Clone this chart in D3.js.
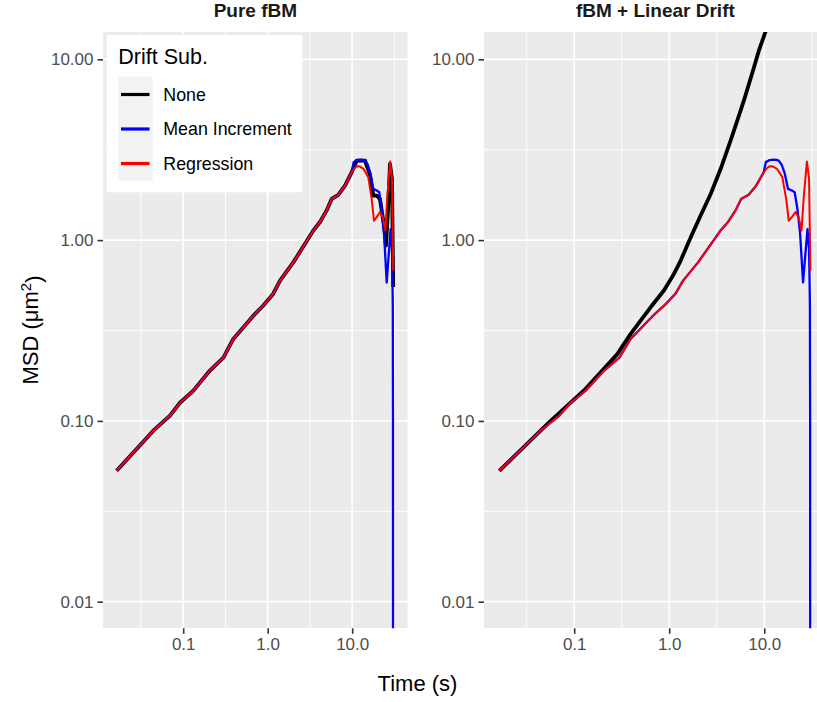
<!DOCTYPE html>
<html>
<head>
<meta charset="utf-8">
<script src="https://cdn.jsdelivr.net/npm/d3@7"></script>
<style>
  body { margin: 0; background: #fff; }
  svg { display: block; font-family: "Liberation Sans", Arial, Helvetica, sans-serif; }
</style>
</head>
<body>
<svg id="chart" width="817" height="702"></svg>
<script>
// ---------- DATA ----------
const panelTitles = ["Pure fBM", "fBM + Linear Drift"];
const seriesNames = ["None", "Mean Increment", "Regression"];
const seriesColors = ["#000000", "#0000FF", "#FF0000"];

const xTickValues = [0.1, 1, 10];
const xTickLabels = ["0.1", "1.0", "10.0"];
const yTickValues = [0.01, 0.1, 1, 10];
const yTickLabels = ["0.01", "0.10", "1.00", "10.00"];

// shared early part of the MSD curve (time in s, MSD in um^2)
const baseTime = [0.0163, 0.0443, 0.0698, 0.0916, 0.132, 0.207, 0.299, 0.392, 0.514, 0.676, 0.887, 1.16, 1.40, 2.01, 3.47, 4.16, 4.99, 5.71, 6.85, 8.22, 9.86];
const baseMsd  = [0.0530, 0.0883, 0.107, 0.126, 0.147, 0.190, 0.224, 0.284, 0.329, 0.382, 0.435, 0.504, 0.597, 0.753, 1.13, 1.26, 1.46, 1.69, 1.78, 2.00, 2.37];

// tails (after ~10 s)
const noneTailTime = [11.3, 14.2, 16.3, 17.8, 19.5, 21.3, 23.8, 25.1, 26.5, 28.0, 29.6, 30.6];
const noneTailMsd  = [2.75, 2.75, 2.28, 1.76, 1.76, 1.69, 1.20, 0.933, 1.43, 2.64, 2.18, 0.55];

const meanTailTime = [10.4, 11.4, 12.5, 13.4, 14.2, 15.2, 16.3, 17.8, 19.5, 20.9, 22.3, 23.8, 25.6, 27.0, 28.5, 29.6, 30.1, 30.25, 30.3, 30.4, 30.5];
const meanTailMsd  = [2.70, 2.77, 2.79, 2.78, 2.75, 2.62, 2.37, 1.92, 1.88, 1.84, 1.49, 1.10, 0.583, 0.820, 1.15, 0.893, 0.514, 0.418, 0.224, 0.107, 0.000001];

const regTailTime = [10.6, 11.3, 12.4, 13.6, 15.5, 17.0, 18.1, 19.5, 21.3, 23.0, 24.7, 26.1, 28.1, 29.6, 30.6];
const regTailMsd  = [2.49, 2.56, 2.55, 2.48, 2.23, 1.69, 1.28, 1.34, 1.43, 1.34, 1.13, 1.76, 2.72, 2.18, 0.678];

// "None" curve with linear drift (right panel)
const driftNoneTime = [0.0163, 0.0565, 0.126, 0.190, 0.284, 0.393, 0.500, 0.637, 0.879, 1.12, 1.32, 1.68, 2.14, 2.73, 3.48, 4.43, 5.20, 6.11, 6.90, 7.80, 8.79, 10.4, 15.8, 30.2];
const driftNoneMsd  = [0.053, 0.100, 0.147, 0.186, 0.234, 0.303, 0.359, 0.425, 0.526, 0.650, 0.771, 1.035, 1.368, 1.80, 2.48, 3.56, 4.58, 5.92, 7.31, 9.04, 11.2, 14.4, 30, 95];

// ---------- BUILD SERIES ----------
const zip = (t, m) => t.map((d, i) => ({ t: d, m: m[i] }));
const baseSeries = zip(baseTime, baseMsd);
const noneFbm = baseSeries.concat(zip(noneTailTime, noneTailMsd));
const meanSeries = baseSeries.concat(zip(meanTailTime, meanTailMsd));
const regSeries = baseSeries.concat(zip(regTailTime, regTailMsd));
const noneDrift = zip(driftNoneTime, driftNoneMsd);

const panels = [
  { title: panelTitles[0], x0: 103, x1: 407.7, series: [noneFbm, meanSeries, regSeries] },
  { title: panelTitles[1], x0: 484, x1: 826.7, series: [noneDrift, meanSeries, regSeries] }
];
const lineWidths = [3.8, 2.3, 2];

const xDomain = [Math.pow(10, -1.949), Math.pow(10, 1.657)];
const yTop = 32, yBottom = 628.3;
const y = d3.scaleLog().domain([Math.pow(10, -2.147), Math.pow(10, 1.151)]).range([yBottom, yTop]);

const svg = d3.select("#chart");
svg.append("rect").attr("width", 817).attr("height", 702).attr("fill", "#fff");

const minorX = [-1.5, -0.5, 0.5, 1.5].map(e => Math.pow(10, e));
const minorY = [-1.5, -0.5, 0.5].map(e => Math.pow(10, e));

panels.forEach((p, pi) => {
  const x = d3.scaleLog().domain(xDomain).range([p.x0, p.x1]);
  const g = svg.append("g");
  const clipId = "clip" + pi;
  svg.append("clipPath").attr("id", clipId)
    .append("rect").attr("x", p.x0).attr("y", yTop).attr("width", p.x1 - p.x0).attr("height", yBottom - yTop);

  const pg = g.append("g").attr("clip-path", `url(#${clipId})`);
  pg.append("rect").attr("x", p.x0).attr("y", yTop).attr("width", p.x1 - p.x0).attr("height", yBottom - yTop).attr("fill", "#EBEBEB");

  // minor grid
  pg.selectAll(".mgx").data(minorX).join("line")
    .attr("x1", d => x(d)).attr("x2", d => x(d)).attr("y1", yTop).attr("y2", yBottom)
    .attr("stroke", "#fff").attr("stroke-width", 0.9);
  pg.selectAll(".mgy").data(minorY).join("line")
    .attr("y1", d => y(d)).attr("y2", d => y(d)).attr("x1", p.x0).attr("x2", p.x1)
    .attr("stroke", "#fff").attr("stroke-width", 0.9);
  // major grid
  pg.selectAll(".Mgx").data(xTickValues).join("line")
    .attr("x1", d => x(d)).attr("x2", d => x(d)).attr("y1", yTop).attr("y2", yBottom)
    .attr("stroke", "#fff").attr("stroke-width", 1.7);
  pg.selectAll(".Mgy").data(yTickValues).join("line")
    .attr("y1", d => y(d)).attr("y2", d => y(d)).attr("x1", p.x0).attr("x2", p.x1)
    .attr("stroke", "#fff").attr("stroke-width", 1.7);

  // lines
  const line = d3.line().x(d => x(d.t)).y(d => y(d.m));
  p.series.forEach((s, si) => {
    pg.append("path").datum(s).attr("d", line)
      .attr("fill", "none").attr("stroke", seriesColors[si])
      .attr("stroke-width", lineWidths[si]).attr("stroke-linejoin", "round");
  });

  // axes
  const xa = g.append("g").attr("transform", `translate(0,${yBottom})`)
    .call(d3.axisBottom(x).tickValues(xTickValues).tickFormat((d, i) => xTickLabels[i]).tickSizeOuter(0).tickSize(5.5).tickPadding(4));
  const ya = g.append("g").attr("transform", `translate(${p.x0},0)`)
    .call(d3.axisLeft(y).tickValues(yTickValues).tickFormat((d, i) => yTickLabels[i]).tickSizeOuter(0).tickSize(5.5).tickPadding(4));
  [xa, ya].forEach(a => {
    a.select(".domain").remove();
    a.selectAll(".tick line").attr("stroke", "#333333").attr("stroke-width", 1.6);
    a.selectAll(".tick text").attr("fill", "#4D4D4D").attr("font-size", "17px")
      .attr("font-family", "'Liberation Sans', Arial, sans-serif");
  });

  // facet title
  svg.append("text").attr("x", (p.x0 + p.x1) / 2).attr("y", 17)
    .attr("text-anchor", "middle").attr("font-weight", "bold").attr("font-size", "19px")
    .attr("fill", "#1A1A1A").text(p.title);
});

// axis titles
svg.append("text").attr("x", 417.5).attr("y", 691).attr("text-anchor", "middle")
  .attr("font-size", "22px").attr("fill", "#000").text("Time (s)");
const yt = svg.append("text").attr("transform", "translate(38,330) rotate(-90)")
  .attr("text-anchor", "middle").attr("font-size", "22px").attr("fill", "#000");
yt.append("tspan").text("MSD (\u03BCm");
yt.append("tspan").attr("dy", "-0.45em").attr("font-size", "15px").text("2");
yt.append("tspan").attr("dy", "0.45em").text(")");

// legend
const lg = svg.append("g");
lg.append("rect").attr("x", 106.7).attr("y", 35).attr("width", 195.6).attr("height", 157.3).attr("fill", "#fff");
lg.append("text").attr("x", 118.3).attr("y", 64).attr("font-size", "21.5px").attr("fill", "#000").text("Drift Sub.");
lg.append("rect").attr("x", 118.3).attr("y", 76.7).attr("width", 34.4).attr("height", 104).attr("fill", "#F2F2F2");
const keyY = d3.scalePoint().domain(seriesNames).range([94.5, 163.5]);
seriesNames.forEach((n, i) => {
  lg.append("line").attr("x1", 121).attr("x2", 149.5).attr("y1", keyY(n)).attr("y2", keyY(n))
    .attr("stroke", seriesColors[i]).attr("stroke-width", 3.2);
  lg.append("text").attr("x", 163.3).attr("y", keyY(n)).attr("dy", "0.35em")
    .attr("font-size", "17.8px").attr("fill", "#000").text(n);
});
</script>
</body>
</html>
